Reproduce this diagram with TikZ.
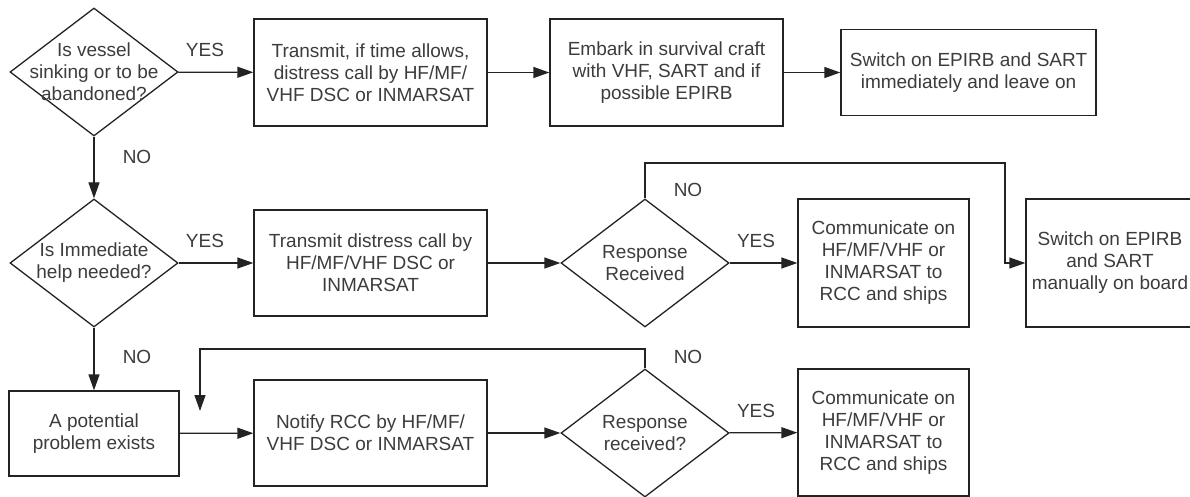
\documentclass[tikz,border=0pt]{standalone}
\usepackage{fontspec}
\setmainfont{Liberation Sans}
\usepackage{tikz}
\usetikzlibrary{shapes.geometric,arrows.meta}
\definecolor{lineGrey}{RGB}{35,35,35}
\definecolor{textGrey}{RGB}{60,60,60}

\begin{document}
\begin{tikzpicture}[x=1pt, y=-1pt,
    every node/.style={font=\fontsize{19}{22}\selectfont, text=textGrey},
    stepbox/.style={draw=lineGrey, line width=1.3pt, align=center, inner sep=0pt},
    decision/.style={draw=lineGrey, line width=1.3pt, diamond, aspect=1.3125, align=center,
        inner sep=-9pt, minimum width=168pt, minimum height=128pt},
    flow/.style={draw=lineGrey, line width=1.3pt, -{Triangle[length=16pt,width=11pt]}},
    link/.style={draw=lineGrey, line width=1.3pt}]
    \useasboundingbox (0,0) rectangle (1190,497);

    % Row 1: vessel sinking
    \node[decision] (sink) at (94,72) {Is vessel\\sinking or to be\\abandoned?};
    \node[stepbox, minimum width=233pt, minimum height=107pt] (sendA) at (370.5,72.5)
        {Transmit, if time allows,\\distress call by HF/MF/\\VHF DSC or INMARSAT};
    \node[stepbox, minimum width=233pt, minimum height=107pt] (embark) at (666.5,72.5)
        {Embark in survival craft\\with VHF, SART and if\\possible EPIRB};
    \node[stepbox, minimum width=255pt, minimum height=86pt] (epirbA) at (968.5,72.5)
        {Switch on EPIRB and SART\\immediately and leave on};

    % Row 2: immediate help
    \node[decision] (help) at (94,263) {Is Immediate\\help needed?};
    \node[stepbox, minimum width=233pt, minimum height=106pt] (sendB) at (370.5,263)
        {Transmit distress call by\\HF/MF/VHF DSC or\\INMARSAT};
    \node[decision] (respA) at (645,263) {Response\\Received};
    \node[stepbox, minimum width=171pt, minimum height=128pt] (commA) at (883.5,263)
        {Communicate on\\HF/MF/VHF or\\INMARSAT to\\RCC and ships};
    \node[stepbox, minimum width=168pt, minimum height=128pt] (epirbB) at (1110,263)
        {Switch on EPIRB\\and SART\\manually on board};

    % Row 3: potential problem
    \node[stepbox, minimum width=170pt, minimum height=85pt] (problem) at (94,433.5)
        {A potential\\problem exists};
    \node[stepbox, minimum width=233pt, minimum height=106pt] (notify) at (370.5,433)
        {Notify RCC by HF/MF/\\VHF DSC or INMARSAT};
    \node[decision] (respB) at (645,433) {Response\\received?};
    \node[stepbox, minimum width=171pt, minimum height=127pt] (commB) at (883.5,432.5)
        {Communicate on\\HF/MF/VHF or\\INMARSAT to\\RCC and ships};

    % Loop corners
    \coordinate (turnA) at (1005,163);
    \coordinate (turnB) at (200,349);
    \coordinate (backB) at (200,411);

    % Connectors
    \draw[flow] (sink) -- (sendA);
    \draw[flow] (sendA) -- (embark);
    \draw[flow] (embark) -- (epirbA);
    \draw[flow] (sink) -- (help);
    \draw[flow] (help) -- (sendB);
    \draw[flow] (sendB) -- (respA);
    \draw[flow] (respA) -- (commA);
    \draw[flow] (respA.north) |- (turnA) |- (epirbB.west);
    \draw[flow] (help) -- (problem);
    \draw[flow] (problem) -- (notify);
    \draw[flow] (notify) -- (respB);
    \draw[flow] (respB) -- (commB);
    \draw[flow] (respB.north) |- (turnB) -- (backB);

    % Answers
    \node (yesA) at (205,50) {YES};
    \node (noA) at (137,157) {NO};
    \node (yesB) at (205,241) {YES};
    \node (noB) at (137,357) {NO};
    \node (noC) at (688,190) {NO};
    \node (yesC) at (756,241) {YES};
    \node (noD) at (688,357) {NO};
    \node (yesD) at (756,411) {YES};
\end{tikzpicture}
\end{document}
